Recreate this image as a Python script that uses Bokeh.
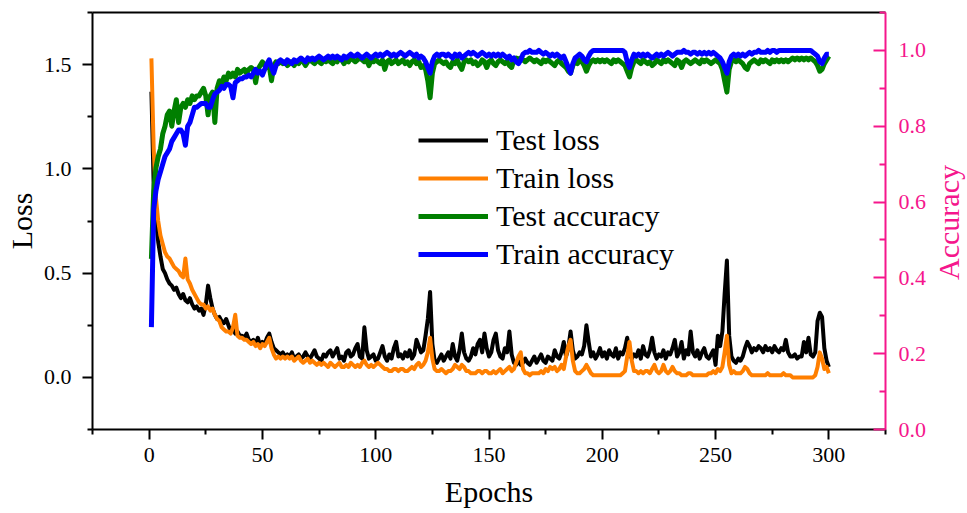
import math
from bokeh.plotting import figure
from bokeh.models import (Range1d, LinearAxis, FixedTicker, Legend, LegendItem,
                          NumeralTickFormatter, Label)
from bokeh.embed import file_html
from bokeh.resources import INLINE

epochs = list(range(1, 301))

test_loss = [
    1.37, 0.92, 0.75, 0.65, 0.58, 0.52, 0.50, 0.47, 0.45, 0.44,
    0.42, 0.43, 0.40, 0.38, 0.40, 0.37, 0.36, 0.38, 0.35, 0.33,
    0.34, 0.32, 0.33, 0.30, 0.35, 0.44, 0.38, 0.33, 0.30, 0.28,
    0.29, 0.27, 0.26, 0.28, 0.25, 0.22, 0.24, 0.21, 0.22, 0.20,
    0.20, 0.19, 0.21, 0.18, 0.17, 0.18, 0.16, 0.19, 0.15, 0.17,
    0.16, 0.19, 0.21, 0.17, 0.14, 0.13, 0.12, 0.11, 0.12, 0.10,
    0.11, 0.10, 0.12, 0.09, 0.10, 0.11, 0.09, 0.10, 0.12, 0.10,
    0.09, 0.11, 0.13, 0.10, 0.09, 0.08, 0.11, 0.10, 0.12, 0.13,
    0.10, 0.12, 0.14, 0.09, 0.10, 0.08, 0.12, 0.13, 0.10, 0.11,
    0.14, 0.16, 0.10, 0.09, 0.24, 0.13, 0.09, 0.10, 0.11, 0.08,
    0.09, 0.12, 0.15, 0.10, 0.08, 0.11, 0.09, 0.14, 0.17, 0.10,
    0.11, 0.09, 0.12, 0.10, 0.13, 0.09, 0.11, 0.18, 0.15, 0.12,
    0.13, 0.20, 0.28, 0.41, 0.16, 0.08, 0.07, 0.09, 0.11, 0.08,
    0.10, 0.12, 0.09, 0.16, 0.10, 0.08, 0.13, 0.21, 0.12, 0.09,
    0.08, 0.10, 0.14, 0.11, 0.16, 0.18, 0.12, 0.21, 0.14, 0.10,
    0.12, 0.18, 0.21, 0.13, 0.10, 0.09, 0.14, 0.12, 0.22, 0.11,
    0.07, 0.06, 0.08, 0.06, 0.07, 0.09, 0.07, 0.06, 0.08, 0.10,
    0.07, 0.09, 0.11, 0.08, 0.07, 0.10, 0.09, 0.08, 0.13, 0.10,
    0.09, 0.12, 0.17, 0.10, 0.14, 0.22, 0.13, 0.09, 0.10, 0.12,
    0.11, 0.15, 0.25, 0.17, 0.10, 0.12, 0.09, 0.11, 0.14, 0.10,
    0.12, 0.09, 0.13, 0.11, 0.10, 0.14, 0.09, 0.12, 0.11, 0.14,
    0.19, 0.12, 0.09, 0.11, 0.10, 0.13, 0.09, 0.15, 0.11, 0.10,
    0.13, 0.19, 0.12, 0.09, 0.11, 0.10, 0.13, 0.09, 0.12, 0.11,
    0.14, 0.18, 0.10, 0.12, 0.17, 0.09, 0.13, 0.11, 0.22, 0.12,
    0.10, 0.13, 0.09, 0.12, 0.14, 0.10, 0.09, 0.11, 0.13, 0.06,
    0.20, 0.15, 0.22, 0.40, 0.56, 0.20, 0.10, 0.08, 0.07, 0.09,
    0.08, 0.10, 0.14, 0.17, 0.15, 0.12, 0.14, 0.13, 0.15, 0.14,
    0.12, 0.15, 0.13, 0.14, 0.12, 0.15, 0.13, 0.12, 0.14, 0.13,
    0.18, 0.12, 0.10, 0.10, 0.11, 0.09, 0.10, 0.10, 0.17, 0.12,
    0.19, 0.11, 0.10, 0.12, 0.27, 0.31, 0.29, 0.14, 0.08, 0.05,
]

train_loss = [
    1.53, 1.10, 0.86, 0.75, 0.68, 0.64, 0.60, 0.58, 0.57, 0.55,
    0.53, 0.52, 0.51, 0.49, 0.48, 0.57, 0.47, 0.45, 0.42, 0.40,
    0.38, 0.36, 0.35, 0.35, 0.33, 0.34, 0.32, 0.33, 0.30, 0.28,
    0.27, 0.24, 0.23, 0.22, 0.22, 0.21, 0.24, 0.30, 0.20, 0.19,
    0.19, 0.18, 0.18, 0.17, 0.16, 0.17, 0.15, 0.16, 0.14, 0.16,
    0.15, 0.17, 0.19, 0.14, 0.11, 0.09, 0.10, 0.09, 0.10, 0.09,
    0.10, 0.09, 0.10, 0.08, 0.09, 0.10, 0.08, 0.07, 0.08, 0.09,
    0.07, 0.08, 0.07, 0.06, 0.07, 0.06, 0.07, 0.06, 0.05, 0.07,
    0.06, 0.05, 0.06, 0.07, 0.05, 0.05, 0.06, 0.05, 0.07, 0.06,
    0.05, 0.06, 0.05, 0.07, 0.08, 0.06, 0.05, 0.06, 0.05, 0.06,
    0.07, 0.06, 0.05, 0.04, 0.04, 0.03, 0.03, 0.04, 0.04, 0.03,
    0.04, 0.04, 0.03, 0.03, 0.04, 0.05, 0.04, 0.06, 0.07, 0.05,
    0.06, 0.08, 0.12, 0.19, 0.09, 0.04, 0.03, 0.03, 0.04, 0.03,
    0.02, 0.03, 0.03, 0.04, 0.06, 0.05, 0.04, 0.06, 0.05, 0.03,
    0.03, 0.02, 0.02, 0.02, 0.03, 0.03, 0.02, 0.03, 0.03, 0.02,
    0.02, 0.03, 0.02, 0.03, 0.04, 0.02, 0.03, 0.04, 0.05, 0.03,
    0.04, 0.07, 0.10, 0.12, 0.04, 0.02, 0.02, 0.01, 0.02, 0.02,
    0.02, 0.02, 0.03, 0.02, 0.04, 0.03, 0.05, 0.04, 0.05, 0.03,
    0.04, 0.06, 0.04, 0.10, 0.15, 0.18, 0.08, 0.03, 0.02, 0.02,
    0.03, 0.04, 0.06, 0.04, 0.02, 0.01, 0.01, 0.01, 0.01, 0.01,
    0.01, 0.01, 0.01, 0.01, 0.01, 0.01, 0.01, 0.01, 0.02, 0.03,
    0.10, 0.17, 0.08, 0.03, 0.03, 0.02, 0.03, 0.02, 0.03, 0.03,
    0.02, 0.04, 0.06, 0.03, 0.02, 0.03, 0.06, 0.03, 0.02, 0.03,
    0.05, 0.03, 0.02, 0.02, 0.01, 0.01, 0.01, 0.02, 0.02, 0.01,
    0.01, 0.01, 0.01, 0.01, 0.01, 0.01, 0.02, 0.02, 0.03, 0.02,
    0.04, 0.03, 0.05, 0.12, 0.20, 0.06, 0.02, 0.03, 0.02, 0.02,
    0.02, 0.03, 0.05, 0.04, 0.02, 0.01, 0.01, 0.01, 0.01, 0.01,
    0.01, 0.01, 0.02, 0.01, 0.01, 0.01, 0.01, 0.01, 0.01, 0.02,
    0.01, 0.01, 0.01, 0.00, 0.00, 0.00, 0.00, 0.00, 0.00, 0.00,
    0.00, 0.00, 0.00, 0.01, 0.05, 0.12, 0.09, 0.04, 0.05, 0.02,
]

test_acc = [
    0.45, 0.63, 0.69, 0.72, 0.74, 0.78, 0.80, 0.83, 0.84, 0.80,
    0.84, 0.87, 0.81, 0.85, 0.86, 0.85, 0.87, 0.86, 0.88, 0.87,
    0.88, 0.88, 0.89, 0.90, 0.88, 0.83, 0.88, 0.89, 0.81, 0.90,
    0.92, 0.91, 0.93, 0.92, 0.94, 0.93, 0.94, 0.93, 0.95, 0.94,
    0.945, 0.95, 0.94, 0.95, 0.955, 0.95, 0.915, 0.95, 0.96, 0.97,
    0.96, 0.955, 0.96, 0.92, 0.96, 0.97, 0.965, 0.97, 0.965, 0.97,
    0.96, 0.965, 0.97, 0.96, 0.97, 0.965, 0.975, 0.97, 0.96, 0.97,
    0.975, 0.97, 0.965, 0.975, 0.97, 0.965, 0.975, 0.97, 0.975, 0.97,
    0.965, 0.975, 0.97, 0.98, 0.975, 0.965, 0.975, 0.97, 0.98, 0.975,
    0.97, 0.975, 0.98, 0.975, 0.97, 0.975, 0.96, 0.975, 0.97, 0.975,
    0.97, 0.965, 0.975, 0.95, 0.97, 0.975, 0.965, 0.97, 0.975, 0.965,
    0.97, 0.975, 0.965, 0.97, 0.96, 0.97, 0.975, 0.965, 0.97, 0.955,
    0.96, 0.95, 0.92, 0.875, 0.94, 0.965, 0.97, 0.975, 0.97, 0.965,
    0.97, 0.96, 0.955, 0.97, 0.965, 0.975, 0.96, 0.95, 0.97, 0.975,
    0.97, 0.975, 0.965, 0.97, 0.96, 0.965, 0.975, 0.97, 0.955, 0.97,
    0.975, 0.965, 0.96, 0.97, 0.975, 0.97, 0.965, 0.97, 0.96, 0.955,
    0.975, 0.98, 0.975, 0.98, 0.975, 0.97, 0.975, 0.98, 0.975, 0.97,
    0.975, 0.97, 0.965, 0.975, 0.97, 0.975, 0.97, 0.965, 0.96, 0.97,
    0.975, 0.965, 0.96, 0.955, 0.945, 0.94, 0.96, 0.97, 0.965, 0.975,
    0.97, 0.96, 0.945, 0.96, 0.97, 0.975, 0.97, 0.975, 0.97, 0.975,
    0.97, 0.975, 0.97, 0.965, 0.975, 0.97, 0.975, 0.97, 0.965, 0.96,
    0.945, 0.93, 0.955, 0.97, 0.975, 0.97, 0.965, 0.975, 0.97, 0.965,
    0.97, 0.96, 0.965, 0.975, 0.97, 0.965, 0.975, 0.97, 0.975, 0.97,
    0.965, 0.96, 0.975, 0.97, 0.955, 0.97, 0.975, 0.97, 0.965, 0.97,
    0.975, 0.97, 0.965, 0.975, 0.97, 0.975, 0.97, 0.965, 0.97, 0.975,
    0.97, 0.965, 0.95, 0.92, 0.89, 0.95, 0.97, 0.975, 0.97, 0.975,
    0.97, 0.965, 0.955, 0.95, 0.965, 0.97, 0.975, 0.97, 0.965, 0.975,
    0.97, 0.975, 0.97, 0.965, 0.975, 0.97, 0.975, 0.97, 0.975, 0.97,
    0.975, 0.97, 0.975, 0.98, 0.975, 0.98, 0.975, 0.98, 0.975, 0.98,
    0.975, 0.98, 0.975, 0.97, 0.96, 0.945, 0.95, 0.965, 0.975, 0.985,
]

train_acc = [
    0.27, 0.58, 0.63, 0.66, 0.68, 0.70, 0.72, 0.73, 0.74, 0.76,
    0.77, 0.78, 0.79, 0.79, 0.78, 0.75, 0.80, 0.81, 0.83, 0.85,
    0.85, 0.855, 0.86, 0.86, 0.86, 0.85, 0.85, 0.87, 0.885, 0.89,
    0.895, 0.905, 0.90, 0.91, 0.91, 0.905, 0.875, 0.915, 0.92, 0.925,
    0.925, 0.93, 0.93, 0.935, 0.93, 0.94, 0.95, 0.94, 0.945, 0.935,
    0.95, 0.965, 0.975, 0.955, 0.94, 0.96, 0.97, 0.975, 0.97, 0.965,
    0.975, 0.97, 0.965, 0.975, 0.97, 0.975, 0.98, 0.975, 0.97, 0.98,
    0.975, 0.98, 0.975, 0.98, 0.985, 0.98, 0.975, 0.98, 0.985, 0.98,
    0.985, 0.98, 0.985, 0.98, 0.975, 0.985, 0.98, 0.985, 0.99, 0.985,
    0.985, 0.99, 0.985, 0.98, 0.985, 0.99, 0.985, 0.98, 0.985, 0.99,
    0.985, 0.99, 0.985, 0.99, 0.995, 0.99, 0.985, 0.99, 0.985, 0.99,
    0.995, 0.99, 0.985, 0.99, 0.995, 0.99, 0.985, 0.99, 0.98, 0.985,
    0.98, 0.97, 0.955, 0.94, 0.97, 0.985, 0.99, 0.985, 0.99, 0.99,
    0.985, 0.99, 0.985, 0.98, 0.99, 0.985, 0.99, 0.98, 0.985, 0.99,
    0.995, 0.99, 0.995, 0.99, 0.985, 0.99, 0.995, 0.99, 0.985, 0.99,
    0.985, 0.99, 0.985, 0.99, 0.985, 0.99, 0.985, 0.98, 0.985, 0.975,
    0.98, 0.97, 0.965, 0.975, 0.99, 0.995, 0.995, 1.0, 0.995, 0.995,
    0.995, 1.0, 0.995, 0.99, 0.995, 0.99, 0.985, 0.99, 0.985, 0.99,
    0.985, 0.98, 0.985, 0.97, 0.955, 0.94, 0.965, 0.98, 0.985, 0.99,
    0.985, 0.975, 0.97, 0.985, 0.995, 1.0, 1.0, 1.0, 1.0, 1.0,
    1.0, 1.0, 1.0, 1.0, 1.0, 1.0, 1.0, 1.0, 1.0, 0.995,
    0.97, 0.955, 0.975, 0.99, 0.985, 0.99, 0.985, 0.99, 0.985, 0.99,
    0.985, 0.98, 0.985, 0.99, 0.985, 0.99, 0.985, 0.99, 0.995, 0.99,
    0.985, 0.99, 0.995, 0.995, 0.995, 1.0, 0.995, 0.995, 0.99, 0.995,
    0.995, 0.99, 0.995, 0.99, 0.995, 0.99, 0.995, 0.99, 0.995, 0.99,
    0.985, 0.98, 0.97, 0.955, 0.94, 0.97, 0.985, 0.99, 0.985, 0.99,
    0.985, 0.99, 0.985, 0.99, 0.995, 0.99, 0.995, 0.995, 1.0, 0.995,
    0.995, 0.995, 1.0, 0.995, 1.0, 1.0, 0.995, 1.0, 1.0, 1.0,
    1.0, 1.0, 1.0, 1.0, 1.0, 1.0, 1.0, 1.0, 1.0, 1.0,
    1.0, 1.0, 0.995, 0.99, 0.985, 0.97, 0.965, 0.98, 0.99, 0.99,
]

x_ticks = [0, 50, 100, 150, 200, 250, 300]
x_minor = [-25, 25, 75, 125, 175, 225, 275, 325]
loss_ticks = [0.0, 0.5, 1.0, 1.5]
loss_minor = [-0.25, 0.25, 0.75, 1.25, 1.75]
acc_ticks = [0.0, 0.2, 0.4, 0.6, 0.8, 1.0]
acc_minor = [0.1, 0.3, 0.5, 0.7, 0.9, 1.1]

assert len(test_loss) == 300 and len(train_loss) == 300
assert len(test_acc) == 300 and len(train_acc) == 300

FONT = "Liberation Serif"
PINK = "#F5168C"

p = figure(frame_width=793, frame_height=417,
           min_border_left=92, min_border_right=82,
           min_border_top=12, min_border_bottom=84,
           x_range=Range1d(-25, 325), y_range=Range1d(-0.25, 1.75),
           output_backend="svg", toolbar_location=None,
           x_axis_label="Epochs", y_axis_label="Loss")
p.extra_y_ranges = {"acc": Range1d(0, 1.1)}
p.grid.visible = False
p.outline_line_color = None
p.background_fill_color = "white"
p.border_fill_color = "white"

r1 = p.line(epochs, test_loss, line_color="black", line_width=4, line_join="round")
r2 = p.line(epochs, train_loss, line_color="#FF7F00", line_width=4, line_join="round")
r3 = p.line(epochs, test_acc, line_color="#007F00", line_width=5, line_join="round", y_range_name="acc")
r4 = p.line(epochs, train_acc, line_color="#0000FF", line_width=5, line_join="round", y_range_name="acc")

xa = p.xaxis[0]
xa.ticker = FixedTicker(ticks=x_ticks, minor_ticks=x_minor)
ya = p.yaxis[0]
ya.ticker = FixedTicker(ticks=loss_ticks, minor_ticks=loss_minor)
ya.formatter = NumeralTickFormatter(format="0.0")

for ax in (xa, ya):
    ax.axis_line_width = 2
    ax.axis_line_color = "black"
    ax.major_tick_line_width = 2
    ax.minor_tick_line_width = 2
    ax.major_tick_out = 10
    ax.major_tick_in = 0
    ax.minor_tick_out = 5
    ax.minor_tick_in = 0
    ax.major_label_text_font = FONT
    ax.major_label_text_font_size = "22px"
    ax.major_label_text_color = "black"
    ax.axis_label_text_font = FONT
    ax.axis_label_text_font_size = "30px"
    ax.axis_label_text_font_style = "normal"
    ax.axis_label_text_color = "black"
xa.major_label_standoff = 8
xa.axis_label_standoff = 10
ya.major_label_standoff = 11
ya.axis_label_standoff = 3

ra = LinearAxis(y_range_name="acc",
                ticker=FixedTicker(ticks=acc_ticks, minor_ticks=acc_minor),
                formatter=NumeralTickFormatter(format="0.0"))
ra.axis_line_width = 2
ra.axis_line_color = PINK
ra.major_tick_line_color = PINK
ra.minor_tick_line_color = PINK
ra.major_tick_line_width = 2
ra.minor_tick_line_width = 2
ra.major_tick_in = 12
ra.major_tick_out = 0
ra.minor_tick_in = 6
ra.minor_tick_out = 0
ra.major_label_text_font = FONT
ra.major_label_text_font_size = "22px"
ra.major_label_text_color = PINK
ra.major_label_standoff = 13
p.add_layout(ra, "right")

acc_label = Label(x=19, y=207, x_units="screen", y_units="screen",
                  text="Accuracy", angle=math.pi / 2,
                  text_font=FONT, text_font_size="30px", text_color=PINK,
                  text_align="center", text_baseline="middle")
p.add_layout(acc_label, "right")

top = LinearAxis(ticker=FixedTicker(ticks=[]), major_label_text_font_size="0px",
                 major_tick_line_color=None, minor_tick_line_color=None)
top.axis_line_width = 2
top.axis_line_color = "black"
p.add_layout(top, "above")

legend = Legend(items=[
    LegendItem(label="Test loss", renderers=[r1]),
    LegendItem(label="Train loss", renderers=[r2]),
    LegendItem(label="Test accuracy", renderers=[r3]),
    LegendItem(label="Train accuracy", renderers=[r4]),
], location=(326, 158))
legend.label_text_font = FONT
legend.label_text_font_size = "30px"
legend.label_text_color = "black"
legend.glyph_width = 70
legend.glyph_height = 30
legend.label_height = 30
legend.label_standoff = 8
legend.spacing = 4
legend.padding = 0
legend.margin = 0
legend.border_line_color = None
legend.background_fill_alpha = 0
p.add_layout(legend, "center")

open("out.html", "w").write(file_html(p, INLINE))
